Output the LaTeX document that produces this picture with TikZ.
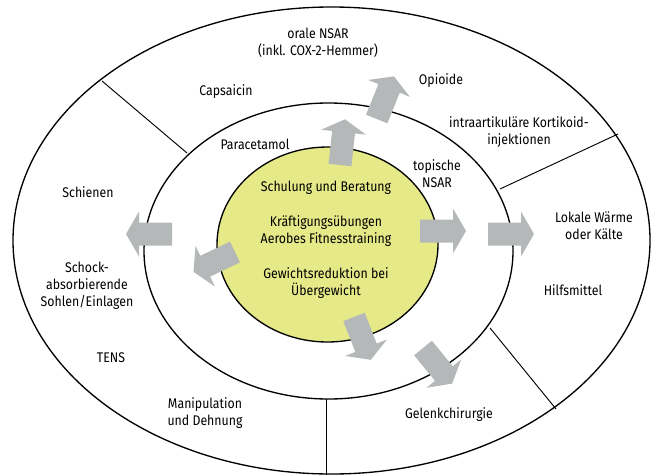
\documentclass[tikz,border=0pt]{standalone}
\usepackage{fontspec}
\setmainfont[FakeStretch=0.88]{Fira Sans}
\definecolor{arrowgray}{RGB}{181,184,185}
\definecolor{coreyellow}{RGB}{229,233,135}
\tikzset{
  ring/.style={draw=black,line width=1pt},
  divider/.style={draw=black,line width=0.7pt},
  txt/.style={align=center,font=\fontsize{10.5}{12.75}\selectfont,inner sep=0pt},
  blockarrow/.style={fill=arrowgray,draw=none},
}
% tail x, tail y, angle
\newcommand{\blockarr}[3]{%
  \fill[blockarrow,shift={(#1,#2)},rotate=#3] (0,-11.5) -- (33,-11.5) -- (33,-22.5) -- (46,0) -- (33,22.5) -- (33,11.5) -- (0,11.5) -- cycle;}
\begin{document}
\begin{tikzpicture}[x=0.75pt,y=-0.75pt]
    \useasboundingbox (0,0) rectangle (656,475);
    % rings
    \draw[ring] (331.5,240.5) ellipse [x radius=318.5, y radius=233.5];
    \draw[ring] (328.5,251) ellipse [x radius=184.5, y radius=148];
    \filldraw[ring,fill=coreyellow] (327.5,244.5) ellipse [x radius=110.5, y radius=97.5];
    % sector borders in the outer ring
    \draw[divider] (102,81) -- (187,153);
    \draw[divider] (618,134) -- (500,189);
    \draw[divider] (490,328) -- (556,409);
    \draw[divider] (326,399) -- (326,475);
    % arrows
    \blockarr{340}{165}{83.8}
    \blockarr{376.7}{119}{68}
    \blockarr{420}{231}{0}
    \blockarr{488}{234}{0}
    \blockarr{172}{234}{180}
    \blockarr{235}{252}{205.5}
    \blockarr{354}{317}{-68.6}
    \blockarr{423}{348}{-50.7}
    % core
    \node[txt] (schulung) at (326,188) {Schulung und Beratung};
    \node[txt] (training) at (326,231) {Kräftigungsübungen\\Aerobes Fitnesstraining};
    \node[txt] (gewicht) at (326,283.5) {Gewichtsreduktion bei\\Übergewicht};
    % middle ring
    \node[txt] (paracetamol) at (255,144) {Paracetamol};
    \node[txt] (topisch) at (437,174) {topische\\NSAR};
    % outer ring
    \node[txt] (oral) at (318,43) {orale NSAR\\(inkl. COX-2-Hemmer)};
    \node[txt] (opioide) at (441,81) {Opioide};
    \node[txt] (capsaicin) at (226,92) {Capsaicin};
    \node[txt] (kortikoid) at (519,132) {intraartikuläre Kortikoid-\\injektionen};
    \node[txt] (schienen) at (88,192) {Schienen};
    \node[txt] (waerme) at (594,225.5) {Lokale Wärme\\oder Kälte};
    \node[txt] (sohlen) at (87,286) {Schock-\\absorbierende\\Sohlen/Einlagen};
    \node[txt] (hilfsmittel) at (573,290) {Hilfsmittel};
    \node[txt] (tens) at (111,358) {TENS};
    \node[txt] (manipulation) at (205,413.5) {Manipulation\\und Dehnung};
    \node[txt] (chirurgie) at (449,415) {Gelenkchirurgie};
\end{tikzpicture}
\end{document}
